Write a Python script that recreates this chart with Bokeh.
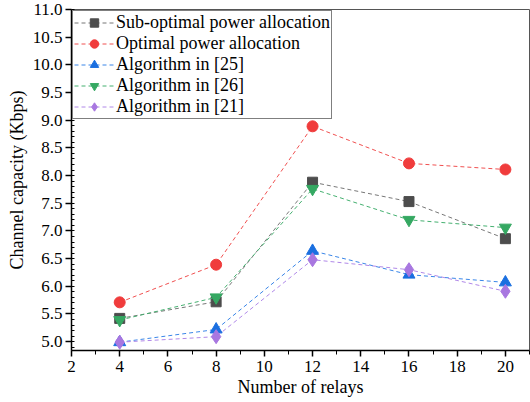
from bokeh.plotting import figure
from bokeh.embed import file_html
from bokeh.resources import INLINE
from bokeh.models import Range1d, FixedTicker, PrintfTickFormatter

relays = [4, 8, 12, 16, 20]
sub_optimal = [5.42, 5.72, 7.88, 7.53, 6.86]
optimal = [5.71, 6.39, 8.89, 8.22, 8.11]
alg25 = [4.99, 5.22, 6.64, 6.21, 6.07]
alg26 = [5.39, 5.80, 7.76, 7.20, 7.06]
alg21 = [4.99, 5.09, 6.48, 6.30, 5.91]

x_ticks = [2, 4, 6, 8, 10, 12, 14, 16, 18, 20]
y_ticks = [5.0, 5.5, 6.0, 6.5, 7.0, 7.5, 8.0, 8.5, 9.0, 9.5, 10.0, 10.5, 11.0]

FONT = "Liberation Serif"

p = figure(width=530, height=402, output_backend="svg", toolbar_location=None,
           x_range=Range1d(2, 21), y_range=Range1d(4.84, 11.0),
           min_border_left=71, min_border_top=9, min_border_right=1, min_border_bottom=52)
p.xgrid.visible = False
p.ygrid.visible = False
p.outline_line_color = "#555555"
p.outline_line_width = 1

series = [
    ("Sub-optimal power allocation", sub_optimal, "#4d4d4d", "#777777", "square", 10),
    ("Optimal power allocation", optimal, "#f03c3c", "#f05050", "circle", 11),
    ("Algorithm in [25]", alg25, "#1a6fe0", "#3a86e8", "triangle", 12),
    ("Algorithm in [26]", alg26, "#35a862", "#45b070", "inverted_triangle", 12),
    ("Algorithm in [21]", alg21, "#a877e0", "#b088e8", "diamond", 14),
]
for label, ys, mc, lc, marker, size in series:
    p.line(relays, ys, line_color=lc, line_width=1, line_dash="4 3", legend_label=label)
    p.scatter(relays, ys, marker=marker, size=size, fill_color=mc, line_color=mc,
              legend_label=label)

for ax in (p.xaxis[0], p.yaxis[0]):
    ax.axis_line_color = "black"
    ax.axis_line_width = 1.5
    ax.major_tick_line_color = "black"
    ax.major_tick_line_width = 1.5
    ax.minor_tick_line_color = "black"
    ax.major_tick_in = 0
    ax.major_tick_out = 6
    ax.major_label_text_font = FONT
    ax.major_label_text_font_size = "17px"
    ax.major_label_text_color = "black"
    ax.axis_label_text_font = FONT
    ax.axis_label_text_font_size = "18px"
    ax.axis_label_text_font_style = "normal"
    ax.axis_label_text_color = "black"

p.xaxis.ticker = FixedTicker(ticks=x_ticks, minor_ticks=[3, 5, 7, 9, 11, 13, 15, 17, 19, 21])
p.xaxis.minor_tick_in = 0
p.xaxis.minor_tick_out = 4
p.xaxis.axis_label = "Number of relays"
p.xaxis.axis_label_standoff = 2
p.xaxis.major_label_standoff = 4

p.yaxis.ticker = FixedTicker(ticks=y_ticks,
                             minor_ticks=[round(4.9 + 0.1 * i, 1) for i in range(62)])
p.yaxis.minor_tick_in = 3
p.yaxis.minor_tick_out = 0
p.yaxis.axis_label = "Channel capacity (Kbps)"
p.yaxis.axis_label_standoff = 3
p.yaxis.major_label_standoff = 3
p.yaxis.formatter = PrintfTickFormatter(format="%.1f")

lg = p.legend[0]
lg.location = "top_left"
lg.border_line_color = "black"
lg.border_line_width = 1.5
lg.background_fill_alpha = 1
lg.label_text_font = FONT
lg.label_text_font_size = "18px"
lg.label_text_color = "black"
lg.label_text_line_height = 1.0
lg.glyph_width = 40
lg.glyph_height = 21
lg.label_height = 21
lg.spacing = 0
lg.padding = 1
lg.margin = 1
lg.label_standoff = 2

open("out.html", "w").write(file_html(p, INLINE))
